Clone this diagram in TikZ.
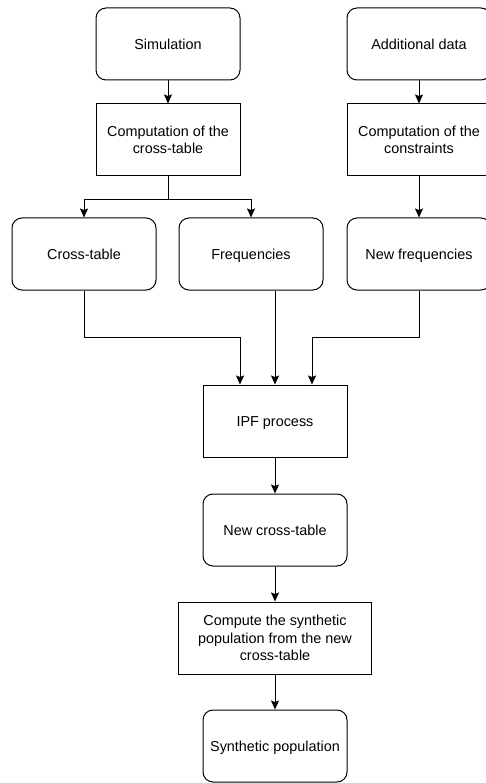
\documentclass[tikz,border=0pt]{standalone}
\usepackage{fontspec}
\setmainfont{Liberation Sans}
\usetikzlibrary{arrows.meta,calc}

\begin{document}
\begin{tikzpicture}[x=1pt, y=-1pt, line width=1pt,
    every node/.style={draw, minimum width=144pt, minimum height=72pt, align=center,
        inner sep=2pt, font=\fontsize{14.4}{17.3}\selectfont},
    roundbox/.style={rounded corners=10pt},
    squarebox/.style={rounded corners=0pt},
    oneline/.style={text height=10.4pt, text depth=0pt},
    arr/.style={-{Stealth[length=9pt, width=8pt, inset=1.5pt]}}]
    \useasboundingbox (0,0) rectangle (486,783);

    % Top row
    \node[roundbox, oneline] (sim) at (168,44) {Simulation};
    \node[roundbox, oneline] (add) at (419,44) {Additional data};
    \node[squarebox] (comp-ct) at (168,140) {Computation of the\\cross-table};
    \node[squarebox] (comp-cs) at (419,140) {Computation of the\\constraints};

    % Middle row
    \node[roundbox, oneline] (cross) at (84,254) {Cross-table};
    \node[roundbox, oneline] (freq) at (251,254) {Frequencies};
    \node[roundbox, oneline] (newfreq) at (419,254) {New frequencies};

    % Lower part
    \node[squarebox, oneline] (ipf) at (275,421) {IPF process};
    \node[roundbox, oneline] (newct) at (275,530) {New cross-table};
    \node[squarebox, minimum width=193pt] (synth) at (275,638) {Compute the synthetic\\population from the new\\cross-table};
    \node[roundbox, oneline] (pop) at (275,746) {Synthetic population};

    % Bend points
    \coordinate (split) at (168,200);
    \coordinate (join-l) at (240,337);
    \coordinate (join-r) at (312,337);

    % Edges
    \draw[arr] (sim) -- (comp-ct);
    \draw[arr] (add) -- (comp-cs);
    \draw (comp-ct) -- (split);
    \draw[arr] (split) -| (cross);
    \draw[arr] (split) -| (freq);
    \draw[arr] (comp-cs) -- (newfreq);
    \draw[arr] (cross) |- (join-l) -- (join-l |- ipf.north);
    \draw[arr] (freq.south -| ipf.north) -- (ipf.north);
    \draw[arr] (newfreq) |- (join-r) -- (join-r |- ipf.north);
    \draw[arr] (ipf) -- (newct);
    \draw[arr] (newct) -- (synth);
    \draw[arr] (synth) -- (pop);
\end{tikzpicture}
\end{document}
